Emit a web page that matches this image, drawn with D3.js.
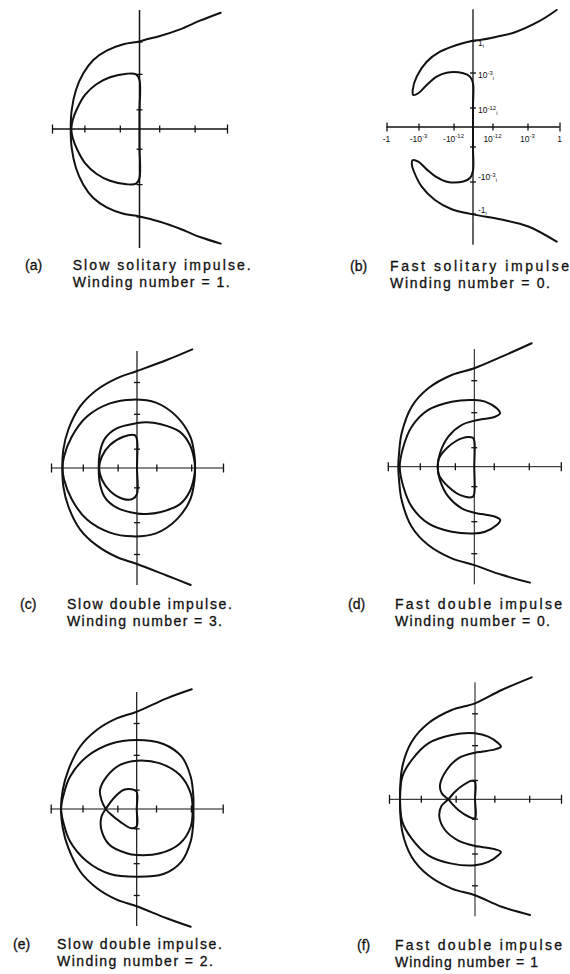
<!DOCTYPE html>
<html><head><meta charset="utf-8">
<script src="https://cdnjs.cloudflare.com/ajax/libs/d3/7.8.5/d3.min.js"></script>
<style>
html,body{margin:0;padding:0;background:#fff;}
svg{display:block;}
text{font-family:"Liberation Sans",Arial,Helvetica,sans-serif;fill:#111;}
.cap{stroke:#111;stroke-width:0.3px;}
</style></head>
<body>
<svg id="chart" width="570" height="974"></svg>
<script>
// ---------- DATA (coordinates in compressed symmetric-log units, ticks at ±0.225, ±0.63, ±1) ----------
const tickU = [-1, -0.63, -0.225, 0.225, 0.63, 1];
const xTickLabels = [["-1",""],["-10","-3"],["-10","-12"],["10","-12"],["10","-3"],["1",""]];
const yTickLabels = [[1,"1",""],[0.63,"10","-3"],[0.225,"10","-12"],[-0.63,"-10","-3"],[-1,"-1",""]];
const panelLetters = ["(a)","(b)","(c)","(d)","(e)","(f)"];
const captionLine1 = ["Slow solitary impulse.","Fast solitary impulse","Slow double impulse.","Fast double impulse","Slow double impulse.","Fast double impulse"];
const captionLine2 = ["Winding number = 1.","Winding number = 0.","Winding number = 3.","Winding number = 0.","Winding number = 2.","Winding number = 1"];

const aOuter = [[0.928,1.329],[0.691,1.238],[0.463,1.139],[0.234,1.063],[0.082,1.025],[0,1.0],[-0.185,0.968],[-0.375,0.895],[-0.528,0.789],[-0.642,0.637],[-0.726,0.446],[-0.775,0.217],[-0.786,0],[-0.775,-0.217],[-0.726,-0.446],[-0.642,-0.637],[-0.528,-0.789],[-0.375,-0.895],[-0.185,-0.968],[0,-1.0],[0.234,-1.06],[0.463,-1.14],[0.691,-1.235],[0.928,-1.31]];
const aInner = [[0,0.56],[-0.04,0.625],[-0.146,0.632],[-0.337,0.591],[-0.489,0.514],[-0.623,0.389],[-0.711,0.237],[-0.763,0.103],[-0.779,0],[-0.763,-0.103],[-0.711,-0.237],[-0.623,-0.389],[-0.489,-0.514],[-0.337,-0.591],[-0.146,-0.632],[-0.04,-0.625],[0,-0.56],[0,-0.2],[0,0.2]];

const bCurve = [[0.967,1.353],[0.755,1.217],[0.47,1.09],[0.274,1.044],[0.081,1.006],[0,0.998],[-0.188,0.948],[-0.381,0.870],[-0.535,0.755],[-0.651,0.582],[-0.697,0.428],[-0.69,0.37],[-0.632,0.39],[-0.535,0.486],[-0.42,0.582],[-0.304,0.628],[-0.112,0.621],[-0.035,0.582],[0,0.505],[0,0.25],[0,0],[0,-0.25],[0,-0.505],[-0.035,-0.59],[-0.112,-0.63],[-0.304,-0.632],[-0.42,-0.58],[-0.535,-0.49],[-0.632,-0.40],[-0.70,-0.385],[-0.706,-0.44],[-0.69,-0.497],[-0.593,-0.69],[-0.44,-0.844],[-0.246,-0.951],[0,-1.01],[0.33,-1.07],[0.64,-1.15],[0.967,-1.326]];

const cOuter = [[0.643,1.38],[0.345,1.256],[0,1.128],[-0.236,1.043],[-0.469,0.907],[-0.663,0.713],[-0.80,0.442],[-0.857,0.21],[-0.868,0],[-0.857,-0.21],[-0.80,-0.442],[-0.663,-0.713],[-0.469,-0.9],[-0.236,-1.035],[0,-1.116],[0.345,-1.25],[0.624,-1.36]];
const cBig = [[-0.05,0.795],[0.22,0.76],[0.46,0.6],[0.62,0.364],[0.67,0.131],[0.675,0],[0.67,-0.131],[0.62,-0.364],[0.46,-0.6],[0.22,-0.76],[-0.05,-0.795],[-0.314,-0.752],[-0.585,-0.597],[-0.759,-0.364],[-0.849,-0.131],[-0.866,0],[-0.849,0.131],[-0.759,0.364],[-0.585,0.597],[-0.314,0.752]];
const cInner = [[0.674,0],[0.666,0.093],[0.616,0.267],[0.5,0.42],[0.267,0.512],[0.11,0.532],[0,0.522],[-0.236,0.462],[-0.372,0.345],[-0.43,0.19],[-0.445,0],[-0.43,-0.19],[-0.372,-0.345],[-0.236,-0.462],[0,-0.53],[0.11,-0.535],[0.267,-0.515],[0.5,-0.42],[0.616,-0.267],[0.666,-0.093]];
const cD = [[0,0.33],[-0.023,0.38],[-0.159,0.364],[-0.314,0.267],[-0.41,0.131],[-0.44,0],[-0.41,-0.131],[-0.314,-0.267],[-0.159,-0.36],[-0.05,-0.36],[0,-0.3],[0,0]];

const dOuter = [[0.663,1.427],[0.317,1.272],[0,1.138],[-0.261,1.06],[-0.532,0.906],[-0.724,0.694],[-0.84,0.386],[-0.87,0.154],[-0.879,0],[-0.87,-0.154],[-0.84,-0.386],[-0.724,-0.694],[-0.532,-0.906],[-0.261,-1.06],[0,-1.138],[0.317,-1.25],[0.644,-1.34]];
const dCrescent = [[0,0.771],[0.124,0.752],[0.259,0.675],[0.297,0.617],[0.24,0.578],[0.085,0.548],[0,0.532],[-0.146,0.482],[-0.30,0.347],[-0.397,0.155],[-0.423,0],[-0.397,-0.155],[-0.30,-0.347],[-0.146,-0.482],[0,-0.532],[0.085,-0.548],[0.24,-0.578],[0.30,-0.617],[0.259,-0.675],[0.124,-0.752],[0,-0.771],[-0.261,-0.752],[-0.532,-0.656],[-0.724,-0.462],[-0.82,-0.231],[-0.862,0],[-0.82,0.231],[-0.724,0.462],[-0.532,0.656],[-0.261,0.752]];
const dD = [[0,0.3],[-0.02,0.335],[-0.146,0.328],[-0.30,0.231],[-0.408,0.097],[-0.423,0],[-0.408,-0.097],[-0.30,-0.231],[-0.146,-0.335],[-0.02,-0.35],[0,-0.31],[0,0]];

const eOuter = [[0.64,1.392],[0.349,1.287],[0,1.131],[-0.233,1.054],[-0.465,0.919],[-0.659,0.724],[-0.795,0.453],[-0.86,0.221],[-0.88,0],[-0.86,-0.221],[-0.795,-0.453],[-0.659,-0.724],[-0.465,-0.919],[-0.233,-1.054],[0,-1.131],[0.349,-1.27],[0.628,-1.369]];
const eBig = [[0,0.802],[0.31,0.756],[0.523,0.608],[0.628,0.376],[0.658,0.155],[0.66,0],[0.658,-0.155],[0.628,-0.376],[0.523,-0.608],[0.31,-0.756],[0,-0.787],[-0.31,-0.756],[-0.581,-0.608],[-0.776,-0.376],[-0.853,-0.155],[-0.88,0],[-0.853,0.155],[-0.776,0.376],[-0.581,0.608],[-0.31,0.756]];
const eHeart = [[0.65,0],[0.628,0.182],[0.503,0.395],[0.271,0.531],[0,0.562],[-0.194,0.512],[-0.349,0.376],[-0.427,0.221],[-0.41,0.105],[-0.36,0],[-0.314,-0.05],[-0.194,-0.147],[-0.062,-0.224],[0,-0.2],[0,0],[0,0.2],[-0.062,0.229],[-0.155,0.221],[-0.252,0.143],[-0.36,0],[-0.41,-0.09],[-0.41,-0.244],[-0.314,-0.419],[-0.116,-0.515],[0,-0.535],[0.271,-0.515],[0.503,-0.4],[0.628,-0.206]];

const fOuter = [[0.659,1.418],[0.31,1.271],[0,1.116],[-0.271,1.038],[-0.543,0.884],[-0.736,0.67],[-0.845,0.379],[-0.872,0],[-0.845,-0.379],[-0.736,-0.67],[-0.543,-0.884],[-0.271,-1.038],[0,-1.116],[0.31,-1.25],[0.64,-1.345]];
const fCrescent = [[0,0.767],[0.155,0.728],[0.271,0.651],[0.302,0.612],[0.233,0.581],[0.078,0.554],[0,0.542],[-0.194,0.477],[-0.329,0.341],[-0.407,0.166],[-0.387,0.07],[-0.31,0],[-0.271,-0.047],[-0.194,-0.124],[-0.078,-0.2],[0,-0.221],[0,0],[0,0.205],[-0.039,0.216],[-0.136,0.166],[-0.233,0.088],[-0.31,0],[-0.39,-0.078],[-0.415,-0.2],[-0.349,-0.357],[-0.194,-0.48],[0,-0.542],[0.078,-0.554],[0.233,-0.581],[0.302,-0.612],[0.271,-0.651],[0.155,-0.728],[0,-0.767],[-0.271,-0.748],[-0.543,-0.651],[-0.736,-0.457],[-0.845,-0.263],[-0.872,0],[-0.845,0.263],[-0.736,0.457],[-0.543,0.651],[-0.271,0.748]];

// ---------- LAYOUT ----------
const layout = [
  {ox:139.5, oy:129,   U:87.5, axisW:1.5, curves:[[aOuter,false],[aInner,true]],
   cap:{lx:25, x:72.7, y:270, w1:178, w2:157}},
  {ox:473,   oy:127,   U:86.5, axisW:1.3, curves:[[bCurve,false]], labels:true,
   cap:{lx:350, x:390, y:270.5, w1:179, w2:160}},
  {ox:137,   oy:468,   U:86,   axisW:1.2, curves:[[cOuter,false],[cBig,true],[cInner,true],[cD,true]],
   cap:{lx:20, x:67, y:609, w1:165, w2:155}},
  {ox:474.3, oy:466.7, U:86.5, axisW:1.0, curves:[[dOuter,false],[dCrescent,true],[dD,true]],
   cap:{lx:348, x:395, y:609, w1:167, w2:155}},
  {ox:136.7, oy:809,   U:86,   axisW:1.2, curves:[[eOuter,false],[eBig,true],[eHeart,true]],
   cap:{lx:13, x:57, y:949, w1:165, w2:156}},
  {ox:475,   oy:799.3, U:86,   axisW:1.0, curves:[[fOuter,false],[fCrescent,true]],
   cap:{lx:357, x:395, y:950, w1:167, w2:143}}
];

const svg = d3.select("#chart");
const ink = "#111";

layout.forEach((p, i) => {
  const x = d3.scaleLinear().domain([-1, 1]).range([p.ox - p.U, p.ox + p.U]);
  const y = d3.scaleLinear().domain([-1, 1]).range([p.oy + p.U, p.oy - p.U]);
  const g = svg.append("g");

  // axes lines
  g.append("line").attr("x1", x(-1)).attr("x2", x(1)).attr("y1", y(0)).attr("y2", y(0))
    .attr("stroke", ink).attr("stroke-width", p.axisW);
  g.append("line").attr("x1", x(0)).attr("x2", x(0)).attr("y1", y(1.36)).attr("y2", y(-1.36))
    .attr("stroke", ink).attr("stroke-width", p.axisW);

  // horizontal ticks (two-sided)
  const hx = g.append("g").attr("transform", `translate(0,${y(0) - 3.5})`)
    .call(d3.axisBottom(x).tickValues(tickU).tickSize(7).tickFormat(""));
  hx.select(".domain").remove();
  hx.selectAll(".tick line").attr("stroke", ink).attr("stroke-width", 1.3)
    .filter(d => Math.abs(d) === 1).attr("y1", -1).attr("y2", 8);
  // vertical ticks (two-sided)
  const vy = g.append("g").attr("transform", `translate(${x(0) + 3},0)`)
    .call(d3.axisLeft(y).tickValues(tickU).tickSize(6).tickFormat(""));
  vy.select(".domain").remove();
  vy.selectAll(".tick line").attr("stroke", ink).attr("stroke-width", 1.3);

  // curves
  p.curves.forEach(([pts, closed]) => {
    const gen = d3.line().x(d => x(d[0])).y(d => y(d[1]))
      .curve(closed ? d3.curveCatmullRomClosed.alpha(0.5) : d3.curveCatmullRom.alpha(0.5));
    g.append("path").attr("d", gen(pts)).attr("fill", "none").attr("stroke", ink)
      .attr("stroke-width", 2).attr("stroke-linejoin", "round").attr("stroke-linecap", "round");
  });

  // tick labels for panel (b)
  if (p.labels) {
    tickU.forEach((t, k) => {
      const [base, sup] = xTickLabels[k];
      const tx = g.append("text").attr("x", x(t)).attr("y", y(0) + 14.5)
        .attr("text-anchor", "middle").style("font-size", "8.5px");
      tx.append("tspan").text(base);
      if (sup) tx.append("tspan").attr("dy", -3.5).style("font-size", "6px").text(sup);
    });
    yTickLabels.forEach(([t, base, sup]) => {
      const ty = g.append("text").attr("x", x(0) + 5).attr("y", y(t) + (t > 0 ? 5.5 : -1))
        .style("font-size", "8.5px");
      ty.append("tspan").text(base);
      if (sup) ty.append("tspan").attr("dy", -3.5).style("font-size", "6px").text(sup);
      ty.append("tspan").attr("dy", sup ? 5.5 : 2).style("font-size", "5.5px").text("i");
    });
  }

  // captions
  const c = p.cap;
  svg.append("text").attr("class", "cap").attr("x", c.lx).attr("y", c.y).style("font-size", "14px").text(panelLetters[i]);
  svg.append("text").attr("class", "cap").attr("x", c.x).attr("y", c.y).style("font-size", "14px")
    .attr("textLength", c.w1).attr("lengthAdjust", "spacing").text(captionLine1[i]);
  svg.append("text").attr("class", "cap").attr("x", c.x).attr("y", c.y + 17).style("font-size", "14px")
    .attr("textLength", c.w2).attr("lengthAdjust", "spacing").text(captionLine2[i]);
});
</script>
</body></html>
